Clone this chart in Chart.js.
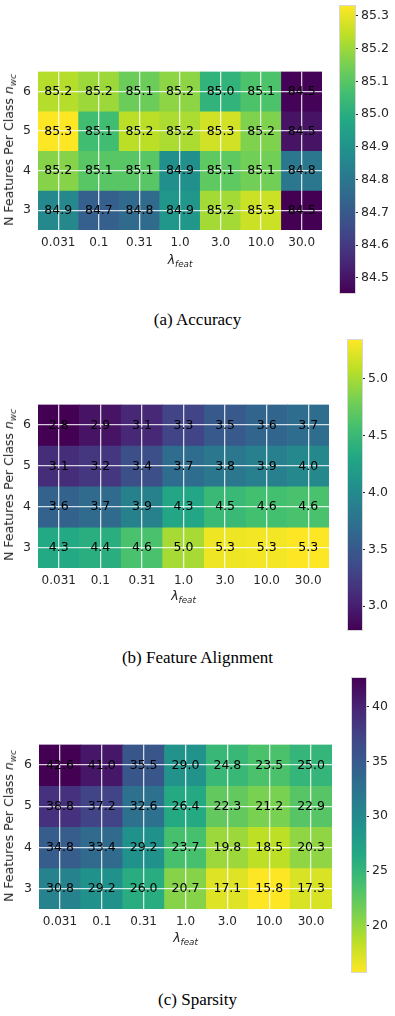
<!DOCTYPE html>
<html>
<head>
<meta charset="utf-8">
<script src="https://cdn.jsdelivr.net/npm/chart.js@4.4.1/dist/chart.umd.min.js"></script>
<style>
  html, body { margin: 0; padding: 0; background: #fff; }
  body { width: 395px; height: 1016px; position: relative; overflow: hidden; font-family: "DejaVu Sans", sans-serif; }
  canvas { position: absolute; }
  .caption { position: absolute; left: 0; width: 395px; height: 20px; line-height: 20px; text-align: center;
             font-family: "Liberation Serif", "Times New Roman", serif; font-size: 17px; color: #000; }
  .xtitle, .ytitle { position: absolute; font-size: 12.5px; color: #262626; white-space: nowrap; line-height: 16px; }
  .xtitle { transform: translate(-50%, -50%); }
  .ytitle { transform: translate(-50%, -50%) rotate(-90deg); }
  .xtitle sub, .ytitle sub { font-size: 70%; font-style: italic; vertical-align: -0.35em; }
</style>
</head>
<body>

<script>
// x categories (lambda_feat) and y rows (n_wc), top row first
const lambdaLabels = ['0.031', '0.1', '0.31', '1.0', '3.0', '10.0', '30.0'];
const classRows = [6, 5, 4, 3];

// (a) Accuracy, rows n_wc = 6, 5, 4, 3
const accuracyValues = [
    [85.23, 85.20, 85.13, 85.18, 85.02, 85.08, 84.46],
    [85.33, 85.06, 85.24, 85.22, 85.27, 85.16, 84.50],
    [85.17, 85.10, 85.10, 84.89, 85.11, 85.14, 84.80],
    [84.86, 84.72, 84.76, 84.91, 85.21, 85.26, 84.454]
];
const accuracyTicks = [84.5, 84.6, 84.7, 84.8, 84.9, 85.0, 85.1, 85.2, 85.3];

// (b) Feature Alignment
const alignValues = [
    [2.79, 2.92, 3.08, 3.31, 3.50, 3.62, 3.70],
    [3.12, 3.20, 3.40, 3.70, 3.80, 3.88, 3.97],
    [3.60, 3.68, 3.90, 4.30, 4.50, 4.57, 4.60],
    [4.33, 4.38, 4.60, 5.00, 5.28, 5.30, 5.34]
];
const alignTicks = [3.0, 3.5, 4.0, 4.5, 5.0];

// (c) Sparsity
const sparsityValues = [
    [42.6, 41.0, 35.5, 29.0, 24.8, 23.5, 25.0],
    [38.8, 37.2, 32.6, 26.4, 22.3, 21.2, 22.9],
    [34.8, 33.4, 29.2, 23.7, 19.8, 18.5, 20.3],
    [30.8, 29.2, 26.0, 20.7, 17.1, 15.8, 17.3]
];
const sparsityTicks = [20, 25, 30, 35, 40];

// viridis colormap, 11 stops
const viridisStops = ['#440154', '#482475', '#414487', '#355f8d', '#2a788e', '#21918c',
                      '#22a884', '#44bf70', '#7ad151', '#bddf26', '#fde725'];

function hexToRgb(h) {
    return [parseInt(h.slice(1, 3), 16), parseInt(h.slice(3, 5), 16), parseInt(h.slice(5, 7), 16)];
}

function viridis(t) {
    t = Math.max(0, Math.min(1, t));
    const p = t * (viridisStops.length - 1);
    const i = Math.min(Math.floor(p), viridisStops.length - 2);
    const f = p - i;
    const a = hexToRgb(viridisStops[i]);
    const b = hexToRgb(viridisStops[i + 1]);
    const c = a.map((v, k) => Math.round(v + (b[k] - v) * f));
    return `rgb(${c[0]},${c[1]},${c[2]})`;
}

const TICK_COLOR = '#262626';
const FONT = '"DejaVu Sans", sans-serif';
const GRID_COLOR = 'rgba(255,255,255,0.8)';

// draws the number in each cell
const cellText = {
    id: 'cellText',
    afterDraw(chart, args, opts) {
        const { ctx, scales: { x, y } } = chart;
        ctx.save();
        ctx.font = '12.5px ' + FONT;
        ctx.fillStyle = '#000';
        ctx.textAlign = 'center';
        ctx.textBaseline = 'middle';
        chart.data.datasets.forEach(ds => {
            ds.raw.forEach((v, c) => {
                ctx.fillText(opts.fmt(v), x.getPixelForValue(c), y.getPixelForValue(ds.row) + 0.5);
            });
        });
        ctx.restore();
    }
};

// fills the colorbar area with the colormap, following the y scale
const colorbarFill = {
    id: 'colorbarFill',
    beforeDatasetsDraw(chart, args, opts) {
        const { ctx, chartArea: a, scales: { y } } = chart;
        const g = ctx.createLinearGradient(0, a.top, 0, a.bottom);
        const n = 40;
        for (let k = 0; k <= n; k++) {
            const v = y.min + (y.max - y.min) * k / n;
            const pos = (y.getPixelForValue(v) - a.top) / (a.bottom - a.top);
            g.addColorStop(Math.max(0, Math.min(1, pos)), opts.cmap(v));
        }
        ctx.save();
        ctx.fillStyle = g;
        ctx.fillRect(a.left, a.top, a.right - a.left, a.bottom - a.top);
        ctx.strokeStyle = 'rgba(210,210,210,0.9)';
        ctx.lineWidth = 1;
        ctx.strokeRect(a.left - 0.5, a.top - 0.5, a.right - a.left + 1, a.bottom - a.top + 1);
        ctx.restore();
    }
};

function addCanvas(left, top, width, height) {
    const c = document.createElement('canvas');
    c.width = width;
    c.height = height;
    c.style.left = left + 'px';
    c.style.top = top + 'px';
    c.style.width = width + 'px';
    c.style.height = height + 'px';
    document.body.appendChild(c);
    return c;
}

function addText(cls, html, x, y) {
    const d = document.createElement('div');
    d.className = cls;
    d.innerHTML = html;
    d.style.left = x + 'px';
    d.style.top = y + 'px';
    document.body.appendChild(d);
}

function buildPanel(p) {
    const flat = p.values.flat();
    const vmin = Math.min(...flat);
    const vmax = Math.max(...flat);
    const cmap = v => {
        const t = (v - vmin) / (vmax - vmin);
        return viridis(p.reversed ? 1 - t : t);
    };

    // heatmap
    const h = p.heat;
    const hc = addCanvas(0, h.t - 12, h.r + 6, (h.b - h.t) + 42);
    new Chart(hc, {
        type: 'bar',
        data: {
            labels: lambdaLabels,
            datasets: p.values.map((row, r) => ({
                row: classRows[r],
                raw: row,
                data: row.map(() => [classRows[r] - 0.5, classRows[r] + 0.5]),
                backgroundColor: row.map(cmap),
                borderWidth: 0,
                barPercentage: 1,
                categoryPercentage: 1,
                grouped: false
            }))
        },
        options: {
            responsive: false,
            animation: false,
            events: [],
            layout: { padding: { left: 0, top: 12, right: 6, bottom: 0 } },
            plugins: {
                legend: { display: false },
                tooltip: { enabled: false },
                cellText: { fmt: p.cellFmt }
            },
            scales: {
                x: {
                    afterFit: s => { s.height = 30; },
                    grid: { z: 1, offset: false, drawTicks: false, color: GRID_COLOR, lineWidth: 1.3 },
                    border: { display: false },
                    ticks: { color: TICK_COLOR, font: { family: FONT, size: 12 }, padding: 6, maxRotation: 0 }
                },
                y: {
                    min: 2.5,
                    max: 6.5,
                    afterFit: s => { s.width = h.l; },
                    afterBuildTicks: s => { s.ticks = classRows.map(v => ({ value: v })); },
                    grid: { z: 1, drawTicks: false, color: GRID_COLOR, lineWidth: 1.3 },
                    border: { display: false },
                    ticks: { color: TICK_COLOR, font: { family: FONT, size: 12.5 }, padding: 7 }
                }
            }
        },
        plugins: [cellText]
    });

    // colorbar
    const b = p.bar;
    const bc = addCanvas(b.l - 10, b.t - 12, 395 - (b.l - 10), (b.b - b.t) + 24);
    new Chart(bc, {
        type: 'bar',
        data: { labels: [''], datasets: [] },
        options: {
            responsive: false,
            animation: false,
            events: [],
            layout: { padding: { left: 10, top: 12, right: 0, bottom: 12 } },
            plugins: {
                legend: { display: false },
                tooltip: { enabled: false },
                colorbarFill: { cmap }
            },
            scales: {
                x: { display: false },
                y: {
                    position: 'right',
                    min: vmin,
                    max: vmax,
                    afterFit: s => { s.width = 395 - b.r; },
                    afterBuildTicks: s => { s.ticks = p.ticks.map(v => ({ value: v })); },
                    grid: { drawOnChartArea: false, drawTicks: true, tickLength: 3, color: TICK_COLOR, lineWidth: 1 },
                    border: { display: false },
                    ticks: { color: TICK_COLOR, font: { family: FONT, size: 12.5 }, padding: 3, callback: v => p.tickFmt(v) }
                }
            }
        },
        plugins: [colorbarFill]
    });

    // titles and caption
    addText('ytitle', 'N Features Per Class <i>n</i><sub>wc</sub>', 11, (h.t + h.b) / 2);
    addText('xtitle', '<i>λ</i><sub>feat</sub>', (h.l + h.r) / 2, p.xTitleY);
    const cap = document.createElement('div');
    cap.className = 'caption';
    cap.textContent = p.caption;
    cap.style.top = (p.captionY - 10) + 'px';
    document.body.appendChild(cap);
}

buildPanel({
    values: accuracyValues, ticks: accuracyTicks,
    cellFmt: v => v.toFixed(1), tickFmt: v => v.toFixed(1),
    heat: { l: 38, t: 69, r: 322, b: 230 }, bar: { l: 340, t: 6, r: 355, b: 293 },
    xTitleY: 262, caption: '(a) Accuracy', captionY: 320
});

buildPanel({
    values: alignValues, ticks: alignTicks,
    cellFmt: v => v.toFixed(1), tickFmt: v => v.toFixed(1),
    heat: { l: 38, t: 402, r: 329, b: 568 }, bar: { l: 348, t: 340, r: 362, b: 630 },
    xTitleY: 598, caption: '(b) Feature Alignment', captionY: 658
});

buildPanel({
    values: sparsityValues, ticks: sparsityTicks, reversed: true,
    cellFmt: v => v.toFixed(1), tickFmt: v => String(Math.round(v)),
    heat: { l: 39, t: 742, r: 332, b: 909 }, bar: { l: 352, t: 678, r: 366, b: 972 },
    xTitleY: 940, caption: '(c) Sparsity', captionY: 1000
});
</script>
</body>
</html>
